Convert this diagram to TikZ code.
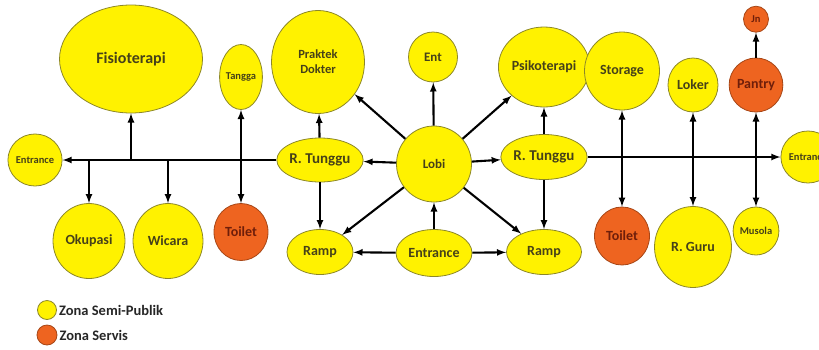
\documentclass[tikz,border=0pt]{standalone}
\usepackage{fontspec}
\setmainfont{Carlito}
\usetikzlibrary{positioning, shapes.geometric}
\definecolor{zonakuning}{RGB}{255,242,0}
\definecolor{zonaoranye}{RGB}{238,100,32}
\definecolor{garistepi}{RGB}{140,135,40}
\definecolor{teksgelap}{RGB}{70,65,25}
\definecolor{teksmerah}{RGB}{110,30,10}

\begin{document}
\begin{tikzpicture}[
    x=1pt, y=-1pt,
    >=latex,
    ruang/.style={ellipse, draw=garistepi, line width=0.8pt, inner sep=0pt, font=\bfseries\fontsize{14}{15}\selectfont, align=center},
    semi/.style={ruang, fill=zonakuning, text=teksgelap},
    servis/.style={ruang, fill=zonaoranye, draw=zonaoranye!70!black, text=teksmerah},
    kecil/.style={font=\bfseries\fontsize{10.5}{11}\selectfont},
    legenda/.style={inner sep=1pt, font=\bfseries\fontsize{14.5}{15}\selectfont, text=black!85},
    arr/.style={->, line width=2.1pt},
    dua/.style={<->, line width=2.1pt},
]
\useasboundingbox (0,0) rectangle (819,349);

% Lobi and around it
\node[semi, minimum width=75, minimum height=76, font=\bfseries\fontsize{13}{14}\selectfont] (lobi) at (434,164) {Lobi};
\node[semi, minimum width=49, minimum height=50, font=\bfseries\fontsize{13}{14}\selectfont] (ent) at (433,57) {Ent};
\node[semi, minimum width=76, minimum height=47] (entrance) at (434,253) {Entrance};
\node[semi, minimum width=66, minimum height=45] (rampkiri) at (320,252) {Ramp};
\node[semi, minimum width=75, minimum height=45] (rampkanan) at (544,252) {Ramp};
\node[semi, minimum width=78, minimum height=44, font=\bfseries\fontsize{15}{16}\selectfont] (tunggukiri) at (320,160) {R. Tunggu};
\node[semi, minimum width=80, minimum height=45, font=\bfseries\fontsize{15}{16}\selectfont] (tunggukanan) at (544,157) {R. Tunggu};
\node[semi, minimum width=93, minimum height=103, font=\bfseries\fontsize{12.5}{15}\selectfont] (praktek) at (318,62) {Praktek\\Dokter};
\node[semi, minimum width=73, minimum height=80] (psiko) at (544,67) {Psikoterapi};

% Left side
\node[semi, minimum width=143, minimum height=108, font=\bfseries\fontsize{16}{17}\selectfont] (fisio) at (131,59) {Fisioterapi};
\node[semi, kecil, minimum width=40, minimum height=65] (tangga) at (241,77) {Tangga};
\node[semi, kecil, minimum width=50, minimum height=52] (entkiri) at (35,160) {Entrance};
\node[semi, minimum width=72, minimum height=75] (okupasi) at (89,241) {Okupasi};
\node[semi, minimum width=70, minimum height=75] (wicara) at (168,241) {Wicara};
\node[servis, minimum width=54, minimum height=57] (toiletkiri) at (241,232) {Toilet};

% Right side
\node[semi, minimum width=75, minimum height=78] (storage) at (622,71) {Storage};
\node[semi, minimum width=50, minimum height=54] (loker) at (693,85) {Loker};
\node[servis, minimum width=52, minimum height=54] (pantry) at (756,85) {Pantry};
\node[servis, kecil, minimum width=25, minimum height=26, above=25pt of pantry] (jn) {Jn};
\node[semi, kecil, minimum width=50, minimum height=52] (entkanan) at (808,157) {Entrance};
\node[servis, minimum width=55, minimum height=58] (toiletkanan) at (622,236) {Toilet};
\node[semi, minimum width=77, minimum height=81] (ruguru) at (693,247) {R. Guru};
\node[semi, kecil, minimum width=45, minimum height=48] (musola) at (756,231) {Musola};

% From the lobby
\draw[arr] (lobi) -- (ent);
\draw[arr] (lobi) -- (praktek);
\draw[arr] (lobi) -- (psiko);
\draw[arr] (lobi) -- (tunggukiri);
\draw[arr] (lobi) -- (tunggukanan);
\draw[arr] (lobi) -- (rampkiri);
\draw[arr] (lobi) -- (rampkanan);
\draw[arr] (entrance) -- (lobi);
\draw[arr] (entrance) -- (rampkiri);
\draw[arr] (entrance) -- (rampkanan);

% Left corridor
\draw[arr] (tunggukiri) -- (praktek);
\draw[arr] (tunggukiri) -- (rampkiri);
\draw[arr] (tunggukiri) -- (entkiri);
\coordinate (cfisio) at (fisio |- tunggukiri);
\coordinate (cokupasi) at (okupasi |- tunggukiri);
\coordinate (cwicara) at (wicara |- tunggukiri);
\draw[arr] (cfisio) -- (fisio);
\draw[arr] (cokupasi) -- (okupasi);
\draw[arr] (cwicara) -- (wicara);
\draw[dua] (tangga) -- (toiletkiri);

% Right corridor
\draw[arr] (tunggukanan) -- (psiko);
\draw[arr] (tunggukanan) -- (rampkanan);
\draw[arr] (tunggukanan) -- (entkanan);
\draw[dua] (storage) -- (toiletkanan);
\draw[dua] (loker) -- (ruguru);
\draw[dua] (pantry) -- (musola);
\draw[arr] (pantry) -- (jn);

% Legend
\node[semi, minimum size=19] (lgsemi) at (47,310) {};
\node[servis, minimum size=20] (lgservis) at (47,335) {};
\node[legenda, right=1pt of lgsemi] (tksemi) {Zona Semi-Publik};
\node[legenda, right=1pt of lgservis] (tkservis) {Zona Servis};
\end{tikzpicture}
\end{document}
